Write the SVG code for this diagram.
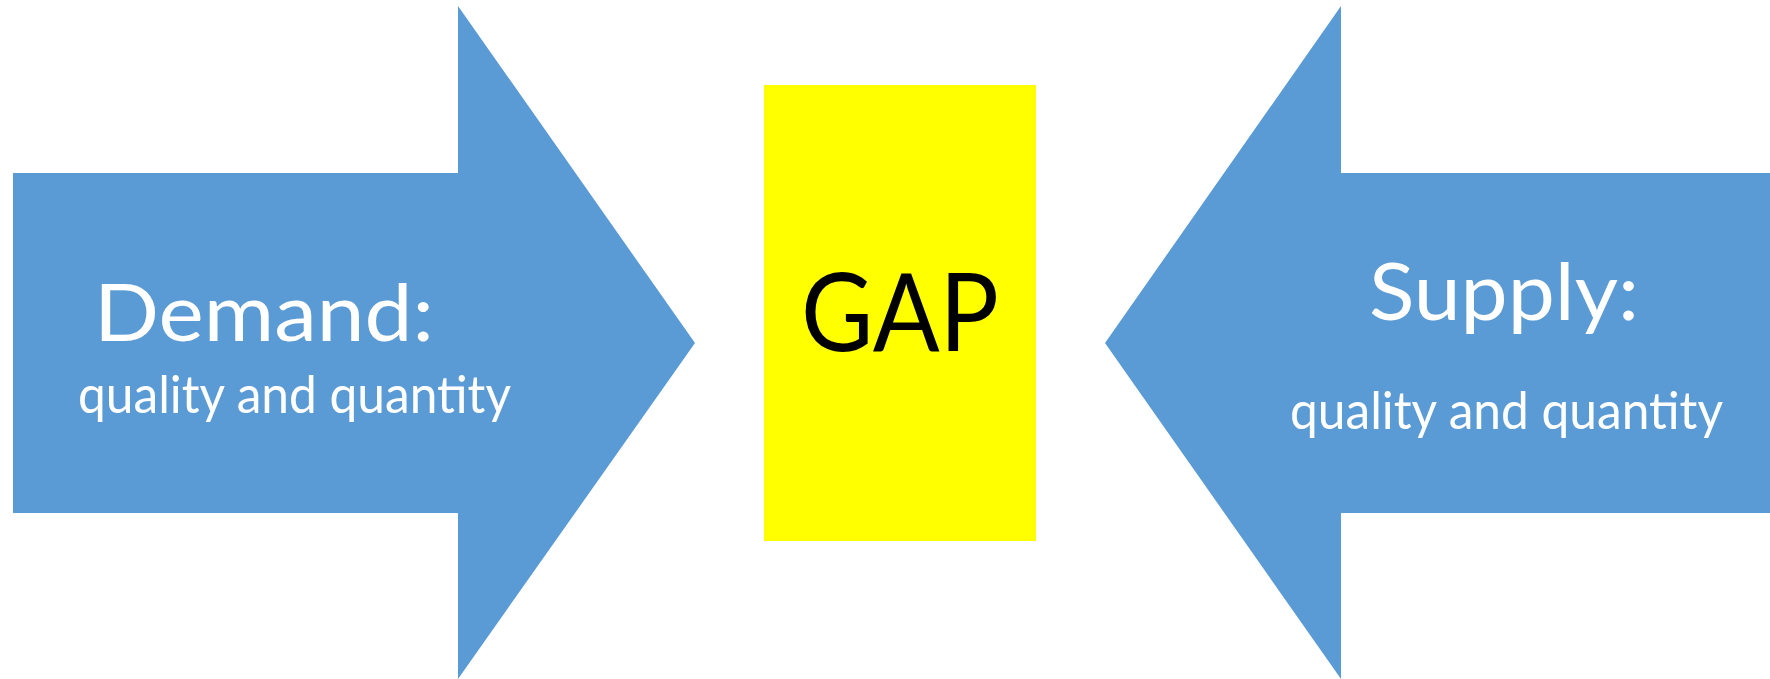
<svg xmlns="http://www.w3.org/2000/svg" width="1770" height="679" viewBox="0 0 1770 679">
<style>
.arrow{fill:#5B9BD5;}
.lbl{font-family:Lato,"Liberation Sans",sans-serif;fill:#FFFFFF;}
.big{font-size:80px;}
.small{font-size:52px;}
.gap{font-family:Lato,"Liberation Sans",sans-serif;font-size:108px;fill:#000000;}
</style>
<rect width="1770" height="679" fill="#FFFFFF"/>
<g id="connectors"></g>
<g id="demand">
<polygon class="arrow" points="13,173 458,173 458,6 695,343 458,679 458,513 13,513"/>
<text class="lbl big" x="94" y="341" textLength="340" lengthAdjust="spacingAndGlyphs">Demand:</text>
<text class="lbl small" x="78" y="413" textLength="433" lengthAdjust="spacingAndGlyphs">quality and quantity</text>
</g>
<g id="gap">
<rect x="764" y="85" width="272" height="456" fill="#FFFF00"/>
<text class="gap" x="801" y="351" textLength="198" lengthAdjust="spacingAndGlyphs">GAP</text>
</g>
<g id="supply">
<polygon class="arrow" points="1770,173 1341,173 1341,6 1105,343 1341,679 1341,513 1770,513"/>
<text class="lbl big" x="1369" y="320" textLength="270" lengthAdjust="spacingAndGlyphs">Supply:</text>
<text class="lbl small" x="1290" y="429" textLength="433" lengthAdjust="spacingAndGlyphs">quality and quantity</text>
</g>
</svg>
